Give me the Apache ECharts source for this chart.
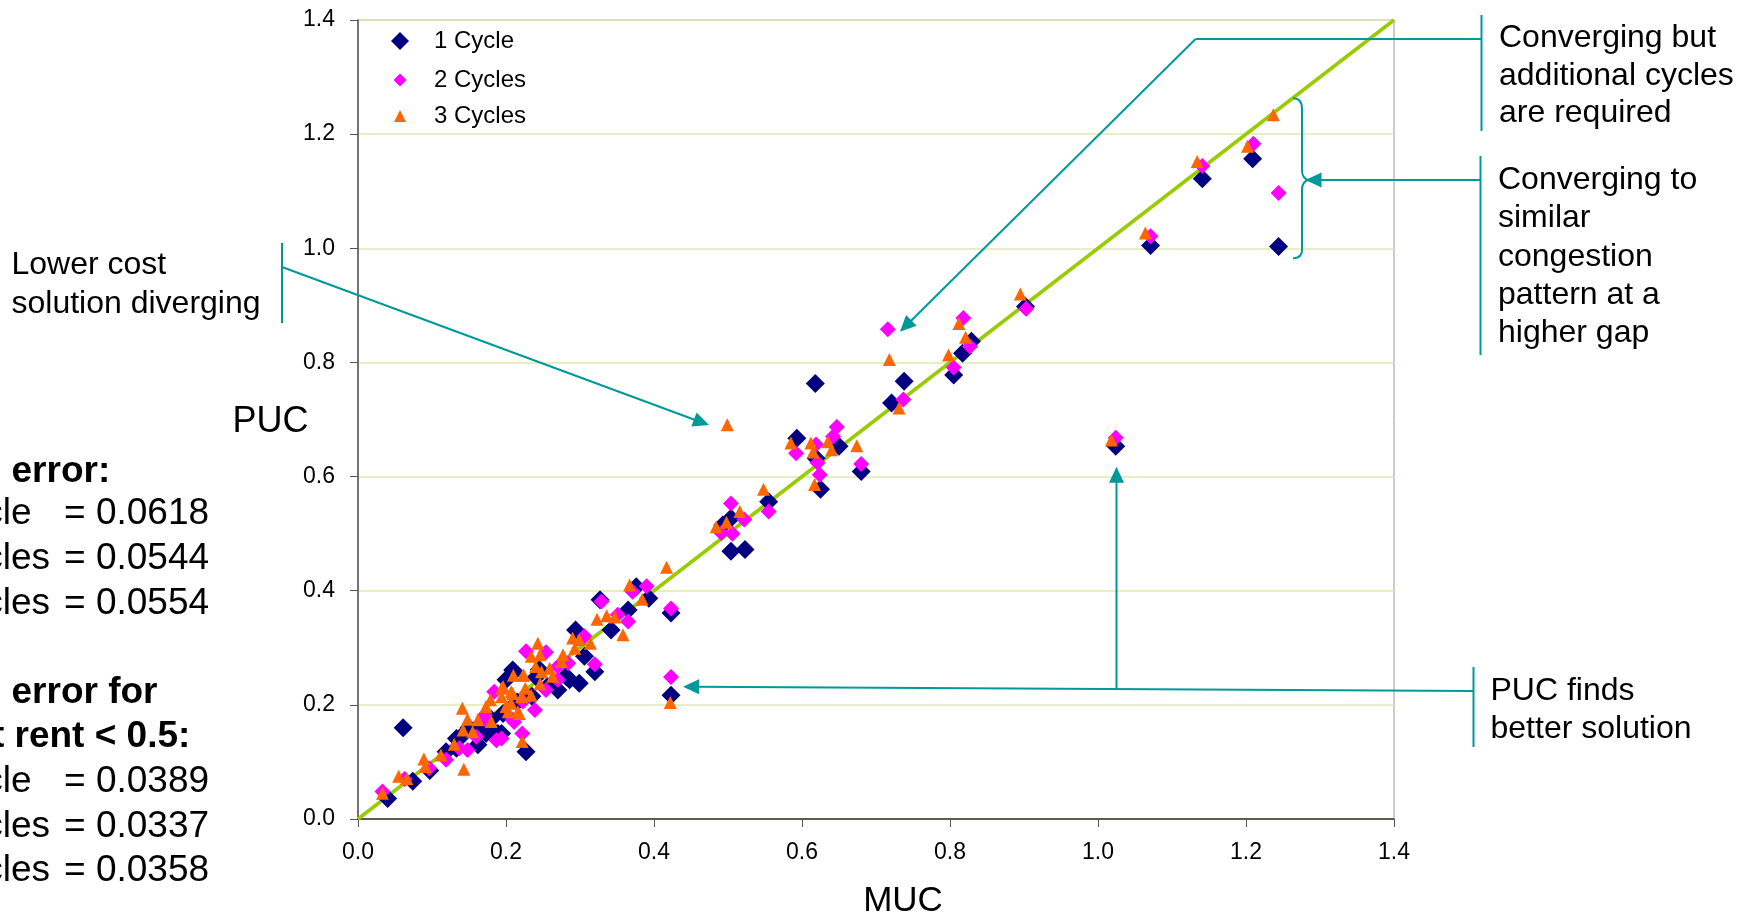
<!DOCTYPE html>
<html>
<head>
<meta charset="utf-8">
<script src="https://cdn.jsdelivr.net/npm/echarts@6/dist/echarts.min.js"></script>
<style>
html,body{margin:0;padding:0;background:#fff;}
#chart{width:1738px;height:917px;}
</style>
</head>
<body>
<div id="chart"></div>
<script>
// ---------------- DATA (MUC, PUC) ----------------
const seriesNames = ['1 Cycle', '2 Cycles', '3 Cycles'];

const cycle1 = [
  [1.244,1.003],[1.071,1.005],[1.141,1.122],[1.209,1.157],[0.902,0.898],
  [0.829,0.837],[0.817,0.816],[0.805,0.778],[0.738,0.767],[0.721,0.729],[0.618,0.763],
  [0.593,0.667],[0.650,0.653],[0.619,0.632],[0.625,0.578],[0.680,0.609],[1.024,0.653],
  [0.555,0.556],[0.504,0.527],[0.493,0.515],[0.504,0.469],[0.523,0.472],
  [0.393,0.387],[0.423,0.361],[0.376,0.407],[0.423,0.217],
  [0.327,0.384],[0.365,0.366],[0.342,0.331],[0.294,0.331],[0.306,0.285],[0.320,0.258],
  [0.209,0.261],[0.281,0.250],[0.299,0.238],[0.270,0.226],[0.256,0.232],[0.200,0.244],
  [0.241,0.249],[0.286,0.244],[0.211,0.258],[0.215,0.205],[0.235,0.215],[0.245,0.262],
  [0.227,0.118],[0.194,0.150],[0.196,0.185],[0.189,0.150],[0.173,0.150],[0.184,0.153],
  [0.180,0.175],[0.165,0.165],[0.150,0.160],
  [0.061,0.160],[0.040,0.036],[0.074,0.066],[0.097,0.085],[0.119,0.118],[0.133,0.124],
  [0.133,0.141],[0.139,0.144],[0.162,0.130]
];

const cycle2 = [
  [1.244,1.097],[1.210,1.183],[1.141,1.144],[1.071,1.021],[0.903,0.894],
  [0.818,0.878],[0.827,0.828],[0.805,0.791],[0.716,0.858],[0.737,0.735],
  [0.647,0.687],[0.642,0.670],[0.619,0.656],[0.621,0.624],[0.624,0.603],[0.592,0.641],
  [0.680,0.622],[1.024,0.668],
  [0.555,0.539],[0.504,0.553],[0.522,0.525],[0.491,0.501],[0.506,0.500],
  [0.390,0.408],[0.371,0.398],[0.423,0.369],[0.423,0.249],
  [0.329,0.381],[0.365,0.346],[0.351,0.358],[0.306,0.320],[0.254,0.292],[0.227,0.294],
  [0.284,0.273],[0.270,0.267],[0.320,0.271],[0.254,0.226],[0.270,0.244],
  [0.223,0.206],[0.239,0.191],[0.211,0.170],[0.222,0.150],[0.194,0.141],[0.209,0.174],
  [0.184,0.223],[0.173,0.174],
  [0.033,0.048],[0.063,0.070],[0.096,0.089],[0.119,0.104],[0.137,0.124],[0.148,0.121],
  [0.160,0.144],[0.171,0.182],[0.187,0.138]
];

const cycle3 = [
  [1.237,1.234],[1.202,1.179],[1.134,1.152],[1.064,1.027],[0.895,0.920],
  [0.812,0.868],[0.821,0.844],[0.798,0.813],[0.718,0.805],[0.731,0.720],[0.499,0.691],
  [0.585,0.659],[0.635,0.661],[0.640,0.647],[0.612,0.659],[0.615,0.643],[0.617,0.586],
  [0.674,0.654],[1.018,0.664],
  [0.548,0.578],[0.516,0.539],[0.498,0.520],[0.484,0.512],[0.417,0.441],[0.384,0.385],
  [0.367,0.410],[0.422,0.204],
  [0.358,0.323],[0.323,0.350],[0.336,0.356],[0.347,0.354],[0.290,0.317],[0.299,0.314],
  [0.314,0.308],[0.293,0.299],
  [0.243,0.308],[0.246,0.288],[0.234,0.285],[0.277,0.288],[0.275,0.276],[0.259,0.264],
  [0.240,0.267],[0.248,0.258],[0.263,0.250],[0.224,0.252],[0.210,0.252],[0.246,0.237],
  [0.196,0.232],[0.209,0.220],[0.226,0.229],[0.234,0.217],[0.221,0.214],[0.207,0.203],
  [0.216,0.188],[0.203,0.188],[0.222,0.136],
  [0.033,0.045],[0.055,0.075],[0.066,0.071],[0.089,0.105],[0.091,0.092],[0.112,0.112],
  [0.130,0.131],[0.143,0.087],
  [0.141,0.194],[0.148,0.175],[0.155,0.153],[0.162,0.174],[0.142,0.156],[0.180,0.171],
  [0.173,0.197],[0.179,0.209],[0.194,0.229],[0.194,0.214],[0.207,0.223],[0.200,0.197],
  [0.218,0.185],[0.223,0.252]
];

const diagonal = [[0, 0], [1.4, 1.4]];
const axisMin = 0, axisMax = 1.4, axisStep = 0.2;

const statLabels = ['1 Cycle', '2 Cycles', '3 Cycles'];
const statAll = ['0.0618', '0.0544', '0.0554'];
const statLow = ['0.0389', '0.0337', '0.0358'];

// ---------------- STYLE ----------------
const FONT = '"Liberation Sans", Arial, Helvetica, sans-serif';
const TEAL = '#009999';
const colors = ['#000080', '#FF00FF', '#FF6600'];

const mctx = document.createElement('canvas').getContext('2d');
function measure(t, size, bold) {
  mctx.font = (bold ? 'bold ' : '') + size + 'px ' + FONT;
  return mctx.measureText(t).width;
}

function txt(x, y, text, size, opts) {
  opts = opts || {};
  return {
    type: 'text', x: x, y: y, z: 100, silent: true,
    style: {
      text: text,
      fill: '#000',
      font: (opts.bold ? 'bold ' : '') + size + 'px ' + FONT,
      textAlign: opts.align || 'left', align: opts.align || 'left',
      textVerticalAlign: 'middle', verticalAlign: 'middle'
    }
  };
}
function seg(x1, y1, x2, y2, w) {
  return { type: 'line', z: 100, silent: true,
    shape: { x1: x1, y1: y1, x2: x2, y2: y2 },
    style: { stroke: TEAL, lineWidth: w || 2 } };
}
function curve(x1, y1, c1x, c1y, c2x, c2y, x2, y2) {
  return { type: 'bezierCurve', z: 100, silent: true,
    shape: { x1: x1, y1: y1, cpx1: c1x, cpy1: c1y, cpx2: c2x, cpy2: c2y, x2: x2, y2: y2 },
    style: { stroke: TEAL, lineWidth: 2, fill: null } };
}
function head(tipX, tipY, fromX, fromY) {
  const len = 16, hw = 7.5;
  const dx = tipX - fromX, dy = tipY - fromY, d = Math.hypot(dx, dy);
  const ux = dx / d, uy = dy / d;
  const bx = tipX - ux * len, by = tipY - uy * len;
  return { type: 'polygon', z: 101, silent: true,
    shape: { points: [[tipX, tipY], [bx - uy * hw, by + ux * hw], [bx + uy * hw, by - ux * hw]] },
    style: { fill: TEAL } };
}

const g = [];
// Axis titles
g.push(txt(903, 901.5, 'MUC', 35, { align: 'center' }));
g.push(txt(270.5, 422, 'PUC', 36, { align: 'center' }));

// Left statistics block
const SZ = 37;
g.push(txt(11.5 - measure('Average ', SZ, true), 472, 'Average error:', SZ, { bold: true }));
const lblX = 50 - measure('2 Cycles', SZ, false);
const rowsA = [514, 559, 604];
statLabels.forEach((l, i) => {
  g.push(txt(lblX, rowsA[i], l, SZ));
  g.push(txt(64, rowsA[i], '= ' + statAll[i], SZ));
});
g.push(txt(11.5 - measure('Average ', SZ, true), 692.5, 'Average error for', SZ, { bold: true }));
g.push(txt(14.5 - measure('Constraint ', SZ, true), 737, 'Constraint rent < 0.5:', SZ, { bold: true }));
const rowsB = [782, 827, 871];
statLabels.forEach((l, i) => {
  g.push(txt(lblX, rowsB[i], l, SZ));
  g.push(txt(64, rowsB[i], '= ' + statLow[i], SZ));
});

// Annotation: Lower cost solution diverging
const AF = 32;
g.push(txt(11.5, 265.5, 'Lower cost', AF));
g.push(txt(11.5, 304, 'solution diverging', AF));
g.push(seg(282, 243, 282, 323));
g.push(seg(282, 267, 700, 421.7));
g.push(head(709, 425, 282, 267));

// Annotation: Converging but additional cycles are required
g.push(txt(1499, 38.5, 'Converging but', AF));
g.push(txt(1499, 76, 'additional cycles', AF));
g.push(txt(1499, 113.5, 'are required', AF));
g.push(seg(1481.5, 15, 1481.5, 131));
g.push(seg(1481.5, 39, 1195.6, 39));
g.push(seg(1195.6, 39, 908, 323.8));
g.push(head(900, 331.7, 1195.6, 39));

// Annotation: Converging to similar congestion pattern at a higher gap
['Converging to', 'similar', 'congestion', 'pattern at a', 'higher gap'].forEach((t, i) => {
  g.push(txt(1498, 180 + 38.4 * i, t, AF));
});
g.push(seg(1480.5, 156, 1480.5, 355));
g.push(seg(1480.5, 180, 1318, 180));
g.push(head(1305.5, 180, 1480.5, 180));
// curly brace
g.push(curve(1293, 98.3, 1299, 98.3, 1302, 102, 1302, 109));
g.push(seg(1302, 109, 1302, 170));
g.push(curve(1302, 170, 1302, 176, 1305, 179.5, 1309, 180));
g.push(curve(1309, 180, 1305, 180.5, 1302, 184, 1302, 190));
g.push(seg(1302, 190, 1302, 250));
g.push(curve(1302, 250, 1302, 255, 1299, 258.3, 1293, 258.3));

// Annotation: PUC finds better solution
g.push(txt(1490.5, 691, 'PUC finds', AF));
g.push(txt(1490.5, 729.5, 'better solution', AF));
g.push(seg(1473.5, 667, 1473.5, 747));
g.push(seg(1473.5, 691, 695, 686.8));
g.push(head(683, 686.7, 1473.5, 691));
g.push(seg(1116.5, 689, 1116.5, 478));
g.push(head(1116.5, 466.7, 1116.5, 689));

// ---------------- CHART ----------------
const chart = echarts.init(document.getElementById('chart'), null, { renderer: 'canvas' });

function legendFor(name, icon, left, top, size, pad) {
  return {
    data: [{ name: name, icon: icon }],
    orient: 'vertical', left: left, top: top,
    itemWidth: size, itemHeight: size, padding: 0,
    selectedMode: false,
    textStyle: { fontFamily: FONT, fontSize: 24, color: '#000', lineHeight: size, padding: [0, 0, 0, pad] }
  };
}

const scatterSeries = [cycle1, cycle2, cycle3].map((d, i) => ({
  name: seriesNames[i],
  type: 'scatter',
  data: d,
  symbol: i === 2 ? 'triangle' : 'diamond',
  symbolSize: [19, 16, 13][i],
  itemStyle: { color: colors[i], opacity: 1 },
  emphasis: { disabled: true },
  z: 3 + i
}));

const axisCommon = {
  type: 'value', min: axisMin, max: axisMax, interval: axisStep,
  axisTick: { show: true, inside: false, length: 8, lineStyle: { color: '#555', width: 1 } },
  axisLabel: { fontFamily: FONT, fontSize: 23, color: '#000', formatter: v => v.toFixed(1) }
};

chart.setOption({
  animation: false,
  backgroundColor: '#fff',
  grid: { left: 358, top: 20, width: 1036, height: 799, show: true, borderColor: '#999', borderWidth: 1, containLabel: false },
  legend: [
    legendFor('1 Cycle', 'diamond', 391, 29, 18, 20),
    legendFor('2 Cycles', 'diamond', 393.5, 68, 13, 22.5),
    legendFor('3 Cycles', 'triangle', 394, 104, 12, 23)
  ],
  xAxis: Object.assign({}, axisCommon, {
    axisLine: { show: true, onZero: false, lineStyle: { color: '#333', width: 1.5 } },
    axisLabel: Object.assign({}, axisCommon.axisLabel, { margin: 22 }),
    splitLine: { show: false }
  }),
  yAxis: Object.assign({}, axisCommon, {
    axisLine: { show: true, onZero: false, lineStyle: { color: '#555', width: 1.5 } },
    axisLabel: Object.assign({}, axisCommon.axisLabel, { margin: 23 }),
    splitLine: { show: true, lineStyle: { color: '#DCEAAE', width: 1.5 } }
  }),
  series: [{
    name: 'y = x', type: 'line', data: diagonal, showSymbol: false, symbol: 'none',
    lineStyle: { color: '#99CC00', width: 3.5 }, z: 2, silent: true,
    emphasis: { disabled: true }
  }].concat(scatterSeries),
  graphic: { elements: g }
});
</script>
</body>
</html>
